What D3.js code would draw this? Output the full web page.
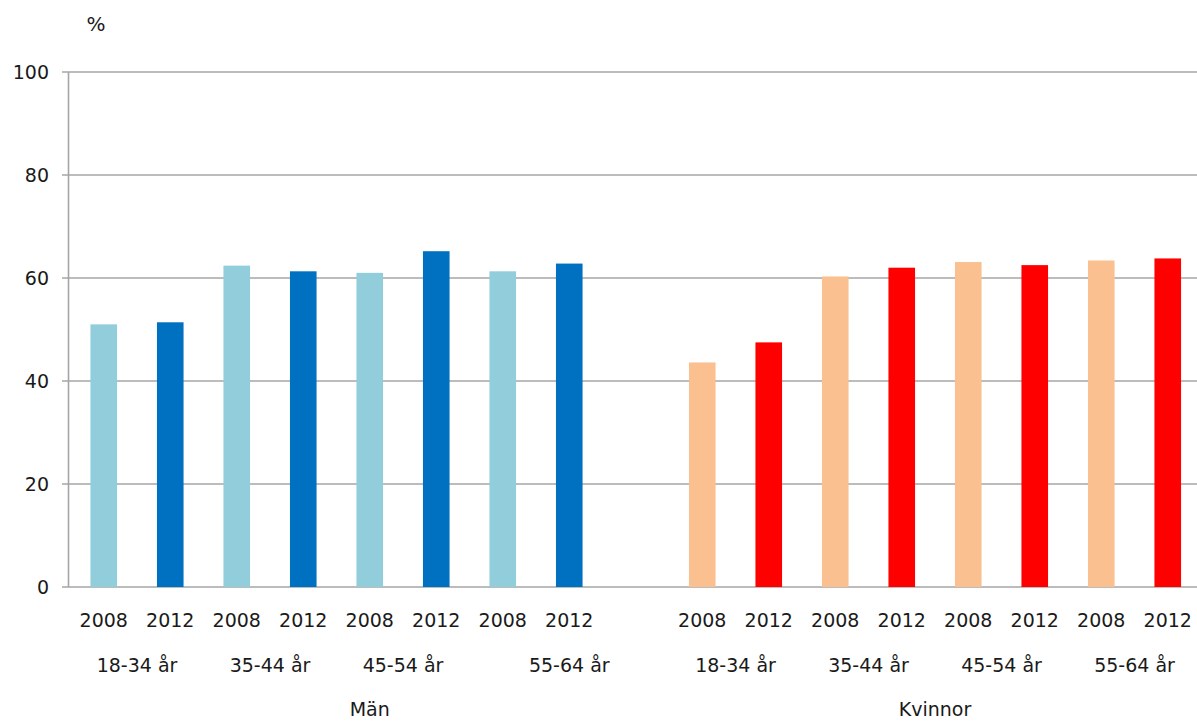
<!DOCTYPE html>
<html><head><meta charset="utf-8">
<script src="https://cdn.jsdelivr.net/npm/d3@7"></script>
<style>body{margin:0;background:#fff}svg{display:block}text{font-family:"DejaVu Sans",sans-serif;fill:#1a1a1a}</style>
</head><body><svg id="c" width="1197" height="722"></svg>
<script>
const genders = ["Män", "Kvinnor"];
const ageGroups = ["18-34 år", "35-44 år", "45-54 år", "55-64 år"];
const years = ["2008", "2012"];
const manValues = [51.0, 51.4, 62.4, 61.3, 61.0, 65.2, 61.3, 62.8];
const kvinnorValues = [43.6, 47.5, 60.3, 62.0, 63.1, 62.5, 63.4, 63.8];
const yTicks = [0, 20, 40, 60, 80, 100];
const colors = {"Män": {"2008": "#92cddc", "2012": "#0070c0"}, "Kvinnor": {"2008": "#fac090", "2012": "#ff0000"}};

const slots = [];
const valuesBy = {"Män": manValues, "Kvinnor": kvinnorValues};
genders.forEach(g => {
  ageGroups.forEach((a, ai) => {
    years.forEach((y, yi) => slots.push({g, a, y, v: valuesBy[g][ai * 2 + yi]}));
  });
  if (g === "Män") slots.push({g, a: ageGroups[3], y: "", v: null});
});
slots.forEach((d, i) => d.id = i);

const svg = d3.select("#c");
const x = d3.scaleBand().domain(slots.map(d => d.id)).range([70.5, 70.5 + 17 * 66.5]).paddingInner(0).paddingOuter(0);
const yS = d3.scaleLinear().domain([0, 100]).range([587, 72]);

svg.append("g").selectAll("line").data(yTicks).join("line")
  .attr("x1", 62).attr("x2", 1197)
  .attr("y1", d => yS(d)).attr("y2", d => yS(d))
  .attr("stroke", "#a6a6a6").attr("stroke-width", 1.6);
svg.append("line").attr("x1", 68.5).attr("x2", 68.5).attr("y1", yS(100)).attr("y2", yS(0))
  .attr("stroke", "#a6a6a6").attr("stroke-width", 1.6);
svg.append("g").selectAll("text").data(yTicks).join("text")
  .attr("x", 49).attr("y", d => yS(d)).attr("dy", "0.35em").attr("text-anchor", "end")
  .style("font-size", "19px").text(d => d);
svg.append("text").attr("x", 96).attr("y", 31).attr("text-anchor", "middle").style("font-size", "20px").text("%");

const bw = x.bandwidth() * 0.4;
svg.append("g").selectAll("rect").data(slots.filter(d => d.v !== null)).join("rect")
  .attr("x", d => x(d.id) + x.bandwidth() / 2 - bw / 2)
  .attr("width", bw)
  .attr("y", d => yS(d.v))
  .attr("height", d => yS(0) - yS(d.v))
  .attr("fill", d => colors[d.g][d.y]);

svg.append("g").selectAll("text").data(slots.filter(d => d.y)).join("text")
  .attr("x", d => x(d.id) + x.bandwidth() / 2).attr("y", 627).attr("text-anchor", "middle")
  .style("font-size", "19px").text(d => d.y);
const ageG = d3.groups(slots, d => d.g + "|" + d.a).map(([k, arr]) => ({
  label: arr[0].a,
  cx: (x(arr[0].id) + x(arr[arr.length - 1].id) + x.bandwidth()) / 2
}));
svg.append("g").selectAll("text").data(ageG).join("text")
  .attr("x", d => d.cx).attr("y", 672).attr("text-anchor", "middle")
  .style("font-size", "19px").text(d => d.label);
const genG = d3.groups(slots, d => d.g).map(([g, arr]) => ({
  label: g, cx: (x(arr[0].id) + x(arr[arr.length - 1].id) + x.bandwidth()) / 2
}));
svg.append("g").selectAll("text").data(genG).join("text")
  .attr("x", d => d.cx).attr("y", 716).attr("text-anchor", "middle")
  .style("font-size", "19px").text(d => d.label);
</script></body></html>
